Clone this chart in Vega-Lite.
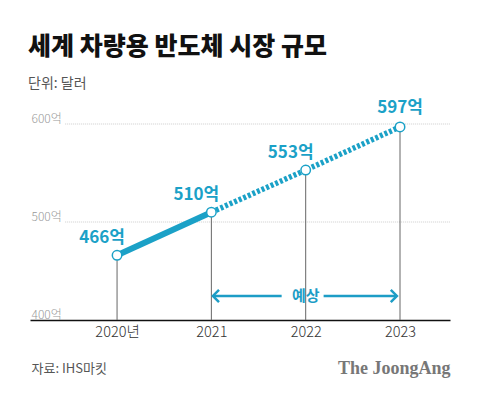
{
  "$schema": "https://vega.github.io/schema/vega-lite/v6.json",
  "autosize": "none",
  "width": 420,
  "height": 220,
  "padding": {"left": 30, "right": 30, "top": 100, "bottom": 74},
  "background": "white",
  "config": {"view": {"stroke": null}, "font": "Noto Sans CJK KR"},
  "title": {
    "text": "세계 차량용 반도체 시장 규모",
    "subtitle": "단위: 달러",
    "anchor": "start",
    "frame": "group",
    "dx": -2,
    "offset": 8,
    "font": "Noto Sans CJK KR",
    "fontSize": 25,
    "fontWeight": 900,
    "color": "#111111",
    "subtitleFont": "Noto Sans CJK KR",
    "subtitleFontSize": 14,
    "subtitleColor": "#555555",
    "subtitlePadding": 17
  },
  "datasets": {
    "pts": [
      {"year": 2020, "value": 466, "label": "466억"},
      {"year": 2021, "value": 510, "label": "510억"},
      {"year": 2022, "value": 553, "label": "553억"},
      {"year": 2023, "value": 597, "label": "597억"}
    ],
    "line": [
      {"year": 2020, "value": 466, "seg": "실적"},
      {"year": 2021, "value": 510, "seg": "실적"},
      {"year": 2021, "value": 510, "seg": "예상"},
      {"year": 2022, "value": 553, "seg": "예상"},
      {"year": 2023, "value": 597, "seg": "예상"}
    ],
    "grid": [{"value": 500}, {"value": 600}],
    "arrow": [
      {"x": 2021.016, "x2": 2021.745},
      {"x": 2022.19, "x2": 2022.967}
    ],
    "heads": [
      {"x": 2021.016, "dir": "left"},
      {"x": 2022.967, "dir": "right"}
    ]
  },
  "layer": [
    {
      "data": {"name": "grid"},
      "mark": {"type": "rule", "color": "#cccccc", "strokeDash": [1, 1], "strokeWidth": 1},
      "encoding": {
        "x": {"datum": 2019.45, "type": "quantitative"},
        "x2": {"datum": 2023.53},
        "y": {"field": "value", "type": "quantitative"}
      }
    },
    {
      "data": {"name": "pts"},
      "mark": {"type": "rule", "color": "#666666", "strokeWidth": 1},
      "encoding": {
        "x": {"field": "year", "type": "quantitative",
          "scale": {"domain": [2019.077, 2023.53], "nice": false, "zero": false},
          "axis": {
            "values": [2020, 2021, 2022, 2023],
            "labelExpr": "datum.value == 2020 ? '2020년' : format(datum.value, 'd')",
            "grid": false, "ticks": false, "tickSize": 0,
            "domainColor": "#111111", "domainWidth": 1.5,
            "labelFontSize": 14.5, "labelColor": "#333333", "labelPadding": 5,
            "labelFont": "Noto Sans CJK KR", "labelFontWeight": 300,
            "title": "자료: IHS마킷",
            "titleFont": "Noto Sans CJK KR",
            "titleFontSize": 13, "titleFontWeight": "normal", "titleColor": "#555555",
            "titleAnchor": "start", "titleAlign": "left", "titleBaseline": "alphabetic",
            "titleX": 1, "titleY": 52
          }
        },
        "y": {"field": "value", "type": "quantitative",
          "scale": {"domain": [400, 624.5], "nice": false, "zero": false},
          "axis": {
            "values": [400, 500, 600],
            "labelExpr": "datum.value + '억'",
            "grid": false, "ticks": false, "tickSize": 0, "domain": false,
            "labelAlign": "left", "labelBaseline": "alphabetic", "labelPadding": -1,
            "labelOffset": -2,
            "labelFontSize": 12, "labelColor": "#999999",
            "labelFont": "Noto Sans CJK KR", "labelFontWeight": 300,
            "title": "The JoongAng",
            "titleFont": "Liberation Serif",
            "titleFontSize": 18, "titleFontWeight": "bold", "titleColor": "#777777",
            "titleAngle": 0, "titleAlign": "right", "titleBaseline": "alphabetic",
            "titleX": 420, "titleY": 273
          }
        },
        "y2": {"datum": 400}
      }
    },
    {
      "data": {"name": "arrow"},
      "mark": {"type": "rule", "color": "#1d9dc6", "strokeWidth": 2.5},
      "encoding": {
        "x": {"field": "x", "type": "quantitative"},
        "x2": {"field": "x2"},
        "y": {"datum": 424.5, "type": "quantitative"}
      }
    },
    {
      "data": {"name": "heads"},
      "transform": [{"filter": "datum.dir == 'left'"}],
      "mark": {"type": "point", "shape": "M1,-1L0,0L1,1", "filled": false, "color": "#1d9dc6", "strokeWidth": 2.5, "size": 150, "opacity": 1},
      "encoding": {
        "x": {"field": "x", "type": "quantitative"},
        "y": {"datum": 424.5, "type": "quantitative"}
      }
    },
    {
      "data": {"name": "heads"},
      "transform": [{"filter": "datum.dir == 'right'"}],
      "mark": {"type": "point", "shape": "M-1,-1L0,0L-1,1", "filled": false, "color": "#1d9dc6", "strokeWidth": 2.5, "size": 150, "opacity": 1},
      "encoding": {
        "x": {"field": "x", "type": "quantitative"},
        "y": {"datum": 424.5, "type": "quantitative"}
      }
    },
    {
      "data": {"values": [{"t": "예상"}]},
      "mark": {"type": "text", "color": "#1d9dc6", "fontSize": 15, "fontWeight": "bold", "baseline": "middle", "align": "center", "font": "Noto Sans CJK KR"},
      "encoding": {
        "x": {"datum": 2022, "type": "quantitative"},
        "y": {"datum": 424.5, "type": "quantitative"},
        "text": {"field": "t"}
      }
    },
    {
      "data": {"name": "line"},
      "transform": [{"filter": "datum.seg == '실적'"}],
      "mark": {"type": "line", "color": "#1ba1c7", "strokeWidth": 6},
      "encoding": {
        "x": {"field": "year", "type": "quantitative"},
        "y": {"field": "value", "type": "quantitative"}
      }
    },
    {
      "data": {"name": "line"},
      "transform": [{"filter": "datum.seg == '예상'"}],
      "mark": {"type": "line", "color": "#1ba1c7", "strokeWidth": 5.5, "strokeDash": [3, 2]},
      "encoding": {
        "x": {"field": "year", "type": "quantitative"},
        "y": {"field": "value", "type": "quantitative"}
      }
    },
    {
      "data": {"name": "pts"},
      "mark": {"type": "point", "filled": true, "fill": "white", "stroke": "#1ba1c7", "strokeWidth": 1.5, "size": 90, "opacity": 1},
      "encoding": {
        "x": {"field": "year", "type": "quantitative"},
        "y": {"field": "value", "type": "quantitative"}
      }
    },
    {
      "data": {"name": "pts"},
      "transform": [{"filter": "datum.year < 2023"}],
      "mark": {"type": "text", "color": "#1ba1c7", "fontSize": 17, "fontWeight": "bold", "align": "center", "baseline": "alphabetic", "dx": -15, "dy": -12, "font": "Noto Sans CJK KR"},
      "encoding": {
        "x": {"field": "year", "type": "quantitative"},
        "y": {"field": "value", "type": "quantitative"},
        "text": {"field": "label"}
      }
    },
    {
      "data": {"name": "pts"},
      "transform": [{"filter": "datum.year == 2023"}],
      "mark": {"type": "text", "color": "#1ba1c7", "fontSize": 17, "fontWeight": "bold", "align": "center", "baseline": "alphabetic", "dx": 0, "dy": -14, "font": "Noto Sans CJK KR"},
      "encoding": {
        "x": {"field": "year", "type": "quantitative"},
        "y": {"field": "value", "type": "quantitative"},
        "text": {"field": "label"}
      }
    }
  ]
}
